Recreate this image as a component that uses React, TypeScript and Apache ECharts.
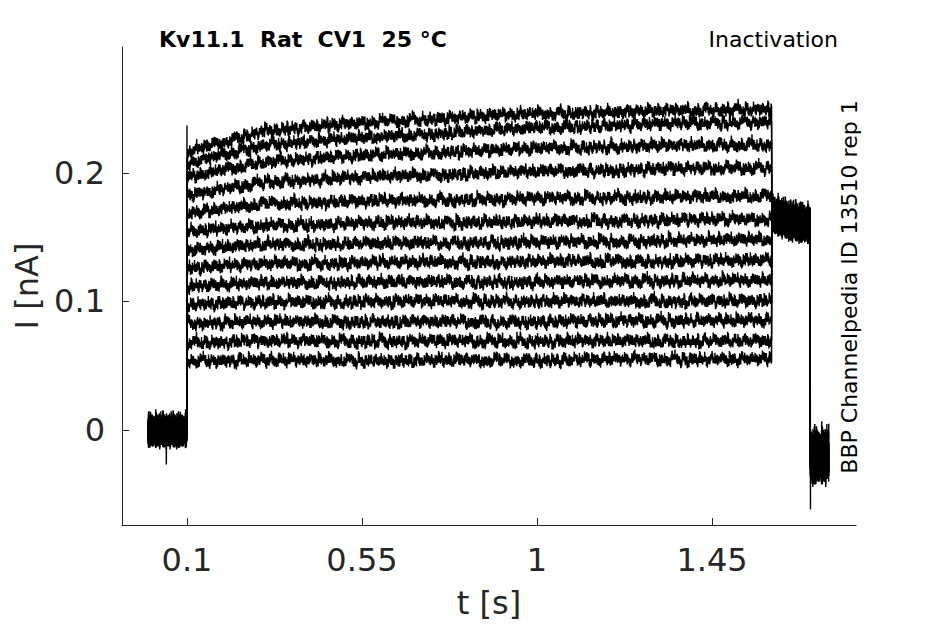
import React, { useEffect, useRef } from "react";
import * as echarts from "echarts";

// ---- data ----
const xTicks = [0.1, 0.55, 1, 1.45];
const yTicks = [0, 0.1, 0.2];

// step-phase level knots (s) and per-trace levels (nA)
const stepKnotTimes = [0.1, 0.3, 0.6, 1.0, 1.3, 1.603];
const traceLevels = [
  [0.216, 0.233, 0.240, 0.246, 0.248, 0.250],
  [0.207, 0.222, 0.228, 0.235, 0.238, 0.240],
  [0.196, 0.209, 0.214, 0.219, 0.221, 0.222],
  [0.182, 0.193, 0.197, 0.201, 0.203, 0.204],
  [0.168, 0.176, 0.178, 0.180, 0.181, 0.182],
  [0.154, 0.159, 0.161, 0.162, 0.163, 0.164],
  [0.140, 0.144, 0.145, 0.146, 0.147, 0.148],
  [0.126, 0.129, 0.130, 0.131, 0.131, 0.132],
  [0.112, 0.114, 0.115, 0.115, 0.116, 0.116],
  [0.098, 0.099, 0.100, 0.100, 0.100, 0.100],
  [0.083, 0.084, 0.084, 0.084, 0.085, 0.085],
  [0.068, 0.069, 0.069, 0.069, 0.069, 0.069],
  [0.054, 0.054, 0.054, 0.054, 0.055, 0.055],
];

// tail (common test pulse) level knots
const tailKnotTimes = [1.603, 1.65, 1.702];
const tailLevels = [0.167, 0.162, 0.159];
// per-trace small offsets in shared phases (nA)
const traceOffsets = [0.003, -0.002, 0.001, -0.004, 0.002, 0.0, -0.001, 0.004, -0.003, 0.001, -0.002, 0.003, 0.0];

// recorded fast noise pattern (thousandths of nA)
const noiseMilli = [
  3, -2, 5, -4, 1, 6, -3, -5, 2, 4,
  -6, 0, 5, -1, -4, 3, 7, -2, -5, 1,
  4, -3, 2, -6, 5, 0, -4, 6, -2, 3,
  -5, 1, 8, -3, -1, 4, -6, 2, 5, -4,
  0, 3, -7, 1, 6, -2, -3, 4, -5, 2,
  9, -1, -4, 3, -2, 5, -6, 1, 4, -3,
  0, 6, -5, 2, -1, -4, 5, 3, -6, 1,
  -2, 7, -3, -5, 4, 0, 2, -4, 6, -1,
  -7, 3, 5, -2, 1, -5, 4, -3, 6, 0,
  -2, 3, -6, 5, 1, -4, 2, -1, 8, -3,
];
// recorded slower fluctuation pattern (thousandths of nA, per 6 ms)
const driftMilli = [
  1, 2, 0, -1, -2, -1, 1, 3, 2, 0,
  -2, -3, -1, 0, 2, 1, -1, -2, 0, 2,
  3, 1, -1, -3, -2, 0, 1, 2, 1, -1,
  -2, 0, 2, 3, 1, -2, -1, 0, 1, -1,
  -3, -2, 1, 2, 0, -1, 2, 1, -2, 0,
];

const baselineLevel = -0.001;
const postLevel = -0.021;
const onsetPeak = 0.237;
const offsetDip = -0.062;
const baselineDip = -0.027;
const phaseTimes = { start: 0, on: 0.1, off: 1.603, tail: 1.702, end: 1.75 };
const sampleStep = 0.0005;
const driftStep = 0.006;

function levelAt(times: number[], vals: number[], t: number) {
  if (t <= times[0]) return vals[0];
  for (let i = 1; i < times.length; i++) {
    if (t <= times[i]) {
      const f = (t - times[i - 1]) / (times[i] - times[i - 1]);
      return vals[i - 1] + f * (vals[i] - vals[i - 1]);
    }
  }
  return vals[vals.length - 1];
}

function noiseAt(i: number, k: number, shift: number) {
  const n = noiseMilli.length;
  const idx = (i * 7 + Math.floor(i / n) * 29 + k * 37 + shift) % n;
  return noiseMilli[idx] / 1000;
}

function driftAt(t: number, k: number) {
  const n = driftMilli.length;
  const j = Math.floor(t / driftStep);
  const idx = (j * 11 + Math.floor(j / n) * 7 + k * 17) % n;
  return driftMilli[idx] / 1000;
}

function buildTrace(k: number) {
  const pts: number[][] = [];
  const dt = sampleStep;
  // baseline
  const nB = Math.round((phaseTimes.on - phaseTimes.start) / dt);
  for (let i = 0; i < nB; i++) {
    const t = phaseTimes.start + i * dt;
    if (k === 0 && i === 94) {
      pts.push([t, baselineDip]);
      continue;
    }
    pts.push([t, baselineLevel + traceOffsets[k] + noiseAt(i, k, 11) * 1.45]);
  }
  if (k === 0) pts.push([phaseTimes.on, onsetPeak]);
  // step
  const nS = Math.round((phaseTimes.off - phaseTimes.on) / dt);
  for (let i = 0; i <= nS; i++) {
    const t = phaseTimes.on + i * dt;
    pts.push([
      t,
      levelAt(stepKnotTimes, traceLevels[k], t) + driftAt(t, k) * 0.9 + noiseAt(i, k, 0) * 0.62,
    ]);
  }
  // tail
  const nT = Math.round((phaseTimes.tail - phaseTimes.off) / dt);
  for (let i = 1; i <= nT; i++) {
    const t = phaseTimes.off + i * dt;
    pts.push([t, levelAt(tailKnotTimes, tailLevels, t) + traceOffsets[k] + noiseAt(i, k, 53) * 1.7]);
  }
  // post
  if (k === 0) pts.push([phaseTimes.tail + 0.001, offsetDip]);
  const nP = Math.round((phaseTimes.end - phaseTimes.tail) / dt);
  for (let i = 1; i <= nP; i++) {
    const t = phaseTimes.tail + i * dt;
    pts.push([t, postLevel + traceOffsets[k] * 2 + noiseAt(i, k, 71) * 2.2]);
  }
  return pts;
}

const FONT = "DejaVu Sans";
const AX = "#262626";

export default function App() {
  const ref = useRef<HTMLDivElement>(null);
  useEffect(() => {
    if (!ref.current) return;
    const chart = echarts.init(ref.current, undefined, { renderer: "svg" });
    const series = traceLevels.map((_, k) => ({
      type: "line",
      data: buildTrace(k),
      showSymbol: false,
      symbol: "none",
      silent: true,
      lineStyle: { color: "#000", width: 1.4 },
      z: 2,
    }));
    chart.setOption({
      animation: false,
      backgroundColor: "#fff",
      title: [
        {
          text: "Kv11.1  Rat  CV1  25 °C",
          left: 159,
          top: 28,
          padding: 0,
          textStyle: { fontFamily: FONT, fontSize: 22, fontWeight: "bold", color: "#000" },
        },
        {
          text: "Inactivation",
          right: 107,
          top: 28,
          padding: 0,
          textStyle: { fontFamily: FONT, fontSize: 22, fontWeight: "normal", color: "#000" },
        },
      ],
      graphic: [
        {
          type: "text",
          x: 849,
          y: 287,
          rotation: Math.PI / 2,
          style: {
            text: "BBP Channelpedia ID 13510 rep 1",
            fontFamily: FONT,
            fontSize: 22,
            fill: "#000",
            align: "center",
            verticalAlign: "middle",
          },
        },
      ],
      grid: { left: 122, right: 89, top: 47, bottom: 99, outerBoundsMode: "none" },
      xAxis: {
        type: "value",
        min: -0.067,
        max: 1.82,
        name: "t [s]",
        nameLocation: "middle",
        nameGap: 62,
        nameTextStyle: { fontFamily: FONT, fontSize: 32, color: AX },
        axisLine: { show: true, onZero: false, lineStyle: { color: AX, width: 1 } },
        axisTick: { show: true, inside: true, length: 7, customValues: xTicks, lineStyle: { color: AX } },
        axisLabel: {
          customValues: xTicks,
          formatter: (v: number) => String(v),
          fontFamily: FONT,
          fontSize: 32,
          color: AX,
          margin: 19,
        },
        splitLine: { show: false },
      },
      yAxis: {
        type: "value",
        min: -0.074,
        max: 0.298,
        name: "I [nA]",
        nameLocation: "middle",
        nameGap: 79,
        nameTextStyle: { fontFamily: FONT, fontSize: 32, color: AX },
        axisLine: { show: true, onZero: false, lineStyle: { color: AX, width: 1 } },
        axisTick: { show: true, inside: true, length: 7, customValues: yTicks, lineStyle: { color: AX } },
        axisLabel: {
          customValues: yTicks,
          formatter: (v: number) => String(v),
          fontFamily: FONT,
          fontSize: 32,
          color: AX,
          margin: 17,
        },
        splitLine: { show: false },
      },
      series,
    });
    return () => chart.dispose();
  }, []);
  return (
    <div
      ref={ref}
      style={{ position: "absolute", left: 0, top: 0, width: 945, height: 624, background: "#fff" }}
    />
  );
}
